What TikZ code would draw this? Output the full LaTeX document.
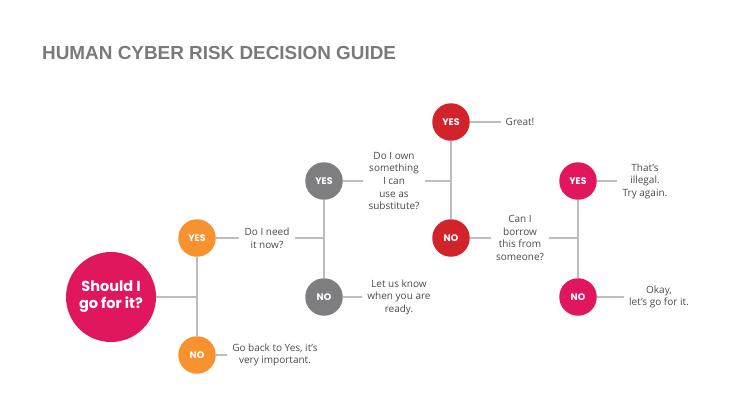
\documentclass[tikz,border=0pt]{standalone}
\usepackage{fontspec}
\setmainfont{Open Sans}
\newfontfamily\popfont{Poppins}
\newfontfamily\titlefont{Liberation Sans}
\definecolor{cpink}{HTML}{E0175F}
\definecolor{corange}{HTML}{F7922E}
\definecolor{cgray}{HTML}{7E7E80}
\definecolor{cred}{HTML}{D2232A}
\definecolor{cline}{HTML}{BDBDBD}
\definecolor{ctext}{HTML}{4A4A4A}
\definecolor{ctitle}{HTML}{7A7A7A}
\tikzset{
  dot/.style={circle,minimum size=37.5pt,inner sep=0pt,text=white,font=\popfont\bfseries\fontsize{9.5}{11}\selectfont},
  bigdot/.style={circle,fill=cpink,minimum size=90pt,inner sep=0pt,text=white,align=center,font=\popfont\bfseries\fontsize{14.5}{17}\selectfont},
  lbl/.style={align=center,text=ctext,inner xsep=5pt,inner ysep=0pt,font=\fontsize{10}{12.6}\selectfont},
  conn/.style={draw=cline,line width=1.3pt}
}
\begin{document}
\begin{tikzpicture}[x=1pt,y=-1pt]
\useasboundingbox (0,0) rectangle (740,416);
\node[anchor=west,text=ctitle,font=\titlefont\bfseries\fontsize{18.9}{20}\selectfont,inner sep=0pt] (title) at (42,53) {HUMAN CYBER RISK DECISION GUIDE};
% circles
\node[bigdot] (main) at (111,297) {Should I\\go for it?};
\node[dot,fill=corange] (oy) at (197,238) {YES};
\node[dot,fill=corange] (on) at (197,355) {NO};
\node[dot,fill=cgray] (gy) at (324,181) {YES};
\node[dot,fill=cgray] (gn) at (324,297) {NO};
\node[dot,fill=cred] (ry) at (451,122) {YES};
\node[dot,fill=cred] (rn) at (451,238) {NO};
\node[dot,fill=cpink] (py) at (578,181) {YES};
\node[dot,fill=cpink] (pn) at (578,297) {NO};
% junctions
\coordinate (j1) at (197,297);
\coordinate (j2) at (324,238);
\coordinate (j3) at (451,181);
\coordinate (j4) at (578,238);
% text nodes
\node[lbl] (t1) at (267,238) {Do I need\\it now?};
\node[lbl] (t2) at (394,181) {Do I own\\something\\I can\\use as\\substitute?};
\node[lbl] (t3) at (399,297) {Let us know\\when you are\\ready.};
\node[lbl] (t4) at (520,122) {Great!};
\node[lbl] (t5) at (520,238) {Can I\\borrow\\this from\\someone?};
\node[lbl] (t6) at (645,181) {That’s\\illegal.\\Try again.};
\node[lbl] (t7) at (659,297) {Okay,\\let’s go for it.};
\node[lbl] (t8) at (275,355) {Go back to Yes, it’s\\very important.};
% connectors
\draw[conn] (oy) -- (on);
\draw[conn] (main) -- (j1);
\draw[conn] (oy) -- (t1);
\draw[conn] (t1) -- (j2);
\draw[conn] (on) -- (t8);
\draw[conn] (gy) -- (gn);
\draw[conn] (gy) -- (t2);
\draw[conn] (t2) -- (j3);
\draw[conn] (gn) -- (t3);
\draw[conn] (ry) -- (rn);
\draw[conn] (ry) -- (t4);
\draw[conn] (rn) -- (t5);
\draw[conn] (t5) -- (j4);
\draw[conn] (py) -- (pn);
\draw[conn] (py) -- (t6);
\draw[conn] (pn) -- (t7);
\end{tikzpicture}
\end{document}
